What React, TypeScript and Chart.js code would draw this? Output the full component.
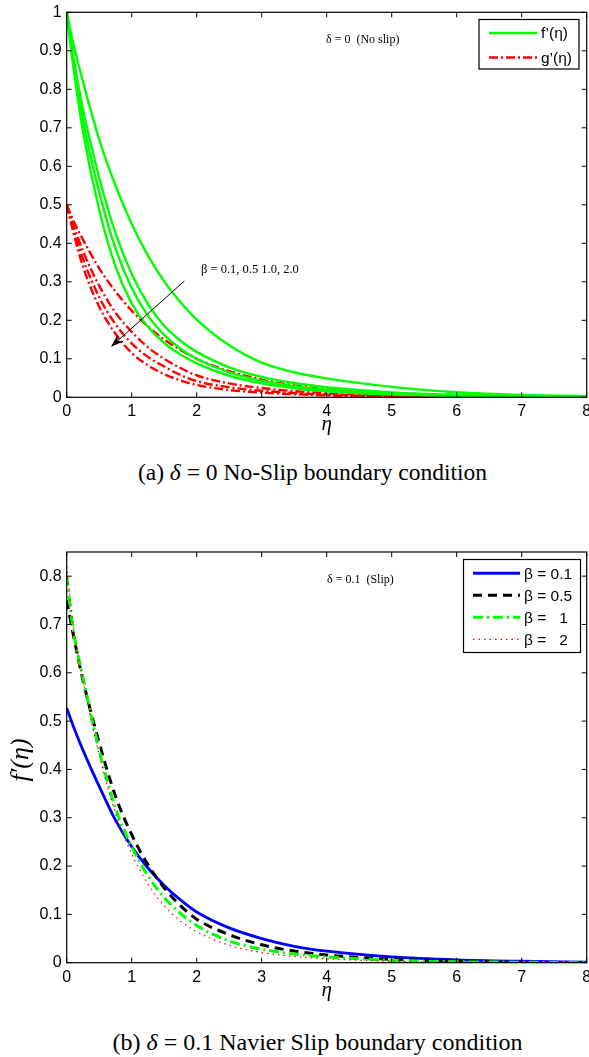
import React, { useEffect, useRef } from "react";
import { Chart, registerables } from "chart.js";

Chart.register(...registerables);

// ---------- data ----------
const ETA = [0, 0.1, 0.25, 0.5, 0.75, 1, 1.25, 1.5, 1.75, 2, 2.5, 3, 3.5, 4, 5, 6, 7, 8];

// (a) delta = 0, f'(eta) for beta = 0.1, 0.5, 1.0, 2.0
const FA_B01 = [1, 0.92, 0.82, 0.67, 0.55, 0.45, 0.368, 0.301, 0.247, 0.202, 0.135, 0.09, 0.065, 0.049, 0.027, 0.013, 0.006, 0.003];
const FA_B05 = [1, 0.887, 0.748, 0.571, 0.427, 0.32, 0.242, 0.186, 0.147, 0.118, 0.078, 0.053, 0.037, 0.026, 0.0125, 0.006, 0.003, 0.0017];
const FA_B1 = [1, 0.869, 0.719, 0.533, 0.387, 0.284, 0.212, 0.162, 0.126, 0.1, 0.065, 0.043, 0.029, 0.019, 0.009, 0.0044, 0.0022, 0.0011];
const FA_B2 = [1, 0.861, 0.691, 0.487, 0.34, 0.244, 0.183, 0.141, 0.111, 0.088, 0.056, 0.036, 0.0235, 0.0155, 0.007, 0.0033, 0.0017, 0.0008];
// (a) g'(eta)
const GA_B01 = [0.5, 0.46, 0.41, 0.335, 0.275, 0.225, 0.184, 0.15, 0.123, 0.1, 0.068, 0.046, 0.031, 0.021, 0.011, 0.006, 0.003, 0.001];
const GA_B05 = [0.5, 0.45, 0.38, 0.29, 0.22, 0.17, 0.13, 0.1, 0.076, 0.057, 0.036, 0.024, 0.016, 0.011, 0.005, 0.003, 0.001, 0];
const GA_B1 = [0.5, 0.44, 0.36, 0.26, 0.19, 0.14, 0.105, 0.08, 0.058, 0.042, 0.026, 0.017, 0.011, 0.007, 0.003, 0.001, 0, 0];
const GA_B2 = [0.5, 0.43, 0.34, 0.235, 0.165, 0.115, 0.083, 0.06, 0.044, 0.032, 0.019, 0.012, 0.008, 0.005, 0.002, 0.001, 0, 0];

// (b) delta = 0.1, f'(eta)
const FB_B01 = [0.527, 0.49, 0.44, 0.365, 0.295, 0.24, 0.196, 0.16, 0.13, 0.105, 0.072, 0.05, 0.034, 0.024, 0.012, 0.006, 0.003, 0.001];
const FB_B05 = [0.75, 0.68, 0.585, 0.455, 0.345, 0.265, 0.203, 0.155, 0.118, 0.09, 0.058, 0.037, 0.024, 0.016, 0.007, 0.003, 0.001, 0];
const FB_B1 = [0.8, 0.69, 0.59, 0.44, 0.32, 0.24, 0.18, 0.135, 0.102, 0.077, 0.045, 0.028, 0.018, 0.012, 0.005, 0.002, 0.001, 0];
const FB_B2 = [0.82, 0.7, 0.585, 0.43, 0.31, 0.225, 0.163, 0.118, 0.086, 0.064, 0.036, 0.021, 0.013, 0.008, 0.003, 0.001, 0, 0];

const X_TICKS = [0, 1, 2, 3, 4, 5, 6, 7, 8];
const Y_TICKS_A = [0, 0.1, 0.2, 0.3, 0.4, 0.5, 0.6, 0.7, 0.8, 0.9, 1];
const Y_TICKS_B = [0, 0.1, 0.2, 0.3, 0.4, 0.5, 0.6, 0.7, 0.8];

const LEGEND_A = ["f\u2019(\u03b7)", "g\u2019(\u03b7)"];
const LEGEND_B = ["\u03b2 = 0.1", "\u03b2 = 0.5", "\u03b2 =   1", "\u03b2 =   2"];
const NOTE_A = "\u03b4 = 0  (No slip)";
const NOTE_B = "\u03b4 = 0.1  (Slip)";
const BETA_NOTE = "\u03b2 = 0.1, 0.5 1.0, 2.0";

// ---------- styles ----------
const SANS = '"Liberation Sans", Arial, sans-serif';
const SERIF = '"Liberation Serif", "Times New Roman", serif';
const GREEN = "#00ff00";
const RED = "#ff0000";
const BLUE = "#0000ff";
const BLACK = "#000000";
const DASHDOT = [9, 3, 2, 3];
const DASHDOT_G = [10, 4, 2, 4];
const DASHED = [9, 6];
const DOTTED = [1.5, 4];

const pts = (ys: number[]) => ETA.map((x, i) => ({ x, y: ys[i] }));

const fmt = (v: number) => (v === 0 ? "0" : String(+Number(v).toFixed(1)));

function drawFrame(chart: any) {
  const { ctx, chartArea: a, scales } = chart;
  ctx.save();
  ctx.strokeStyle = "#000";
  ctx.lineWidth = 1.2;
  ctx.setLineDash([]);
  ctx.strokeRect(a.left, a.top, a.right - a.left, a.bottom - a.top);
  ctx.lineWidth = 1;
  ctx.beginPath();
  for (const t of scales.x.ticks) {
    const px = scales.x.getPixelForValue(t.value);
    ctx.moveTo(px, a.bottom);
    ctx.lineTo(px, a.bottom - 5);
    ctx.moveTo(px, a.top);
    ctx.lineTo(px, a.top + 5);
  }
  for (const t of scales.y.ticks) {
    const py = scales.y.getPixelForValue(t.value);
    ctx.moveTo(a.left, py);
    ctx.lineTo(a.left + 5, py);
    ctx.moveTo(a.right, py);
    ctx.lineTo(a.right - 5, py);
  }
  ctx.stroke();
  ctx.restore();
}

type LegItem = { label: string; color: string; width: number; dash: number[]; y: number };

function drawLegend(
  ctx: CanvasRenderingContext2D,
  box: { x: number; y: number; w: number; h: number },
  items: LegItem[],
  x0: number,
  x1: number,
  tx: number
) {
  ctx.save();
  ctx.fillStyle = "#fff";
  ctx.fillRect(box.x, box.y, box.w, box.h);
  ctx.strokeStyle = "#000";
  ctx.lineWidth = 1.2;
  ctx.setLineDash([]);
  ctx.strokeRect(box.x, box.y, box.w, box.h);
  for (const it of items) {
    ctx.beginPath();
    ctx.strokeStyle = it.color;
    ctx.lineWidth = it.width;
    ctx.setLineDash(it.dash);
    ctx.moveTo(x0, it.y);
    ctx.lineTo(x1, it.y);
    ctx.stroke();
    ctx.setLineDash([]);
    ctx.fillStyle = "#000";
    ctx.font = `15.5px ${SANS}`;
    ctx.textAlign = "left";
    ctx.textBaseline = "middle";
    ctx.fillText(it.label, tx, it.y + 1);
  }
  ctx.restore();
}

function baseOptions(o: {
  padTop: number;
  padRight: number;
  yWidth: number;
  xHeight: number;
  yMax: number;
  yTicks: number[];
}) {
  const tickFont = { family: SANS, size: 16 };
  return {
    animation: false as const,
    responsive: false,
    maintainAspectRatio: false,
    devicePixelRatio: 1,
    layout: { padding: { top: o.padTop, right: o.padRight, left: 0, bottom: 0 } },
    plugins: { legend: { display: false }, tooltip: { enabled: false } },
    elements: { point: { radius: 0 }, line: { tension: 0 } },
    scales: {
      x: {
        type: "linear" as const,
        min: 0,
        max: 8,
        grid: { display: false, drawTicks: false },
        border: { display: false },
        ticks: { font: tickFont, color: "#000", padding: 5, maxRotation: 0, autoSkip: false, callback: (v: any) => fmt(v) },
        afterBuildTicks: (s: any) => {
          s.ticks = X_TICKS.map((v) => ({ value: v }));
        },
        afterFit: (s: any) => {
          s.height = o.xHeight;
          s.paddingLeft = 0;
          s.paddingRight = 0;
        },
      },
      y: {
        type: "linear" as const,
        min: 0,
        max: o.yMax,
        grid: { display: false, drawTicks: false },
        border: { display: false },
        ticks: { font: tickFont, color: "#000", padding: 5, autoSkip: false, callback: (v: any) => fmt(v) },
        afterBuildTicks: (s: any) => {
          s.ticks = o.yTicks.map((v) => ({ value: v }));
        },
        afterFit: (s: any) => {
          s.width = o.yWidth;
          s.paddingTop = 0;
          s.paddingBottom = 0;
        },
      },
    },
  };
}

const mkLine = (ys: number[], color: string, width: number, dash: number[], order: number) => ({
  data: pts(ys),
  borderColor: color,
  borderWidth: width,
  borderDash: dash,
  cubicInterpolationMode: "monotone" as const,
  pointRadius: 0,
  fill: false,
  order,
});

function ChartA() {
  const ref = useRef<HTMLCanvasElement | null>(null);
  useEffect(() => {
    if (!ref.current) return;
    const plugin = {
      id: "decorA",
      afterDatasetsDraw(chart: any) {
        drawFrame(chart);
        const { ctx, chartArea: a, scales } = chart;
        ctx.save();
        ctx.fillStyle = "#000";
        ctx.textBaseline = "middle";
        ctx.textAlign = "left";
        ctx.font = `12px ${SERIF}`;
        ctx.fillText(NOTE_A, 326, 40);
        ctx.font = `12.5px ${SERIF}`;
        ctx.fillText(BETA_NOTE, 201, 270);
        // arrow
        const sx = scales.x.getPixelForValue(1.81);
        const sy = scales.y.getPixelForValue(0.302);
        const ex = scales.x.getPixelForValue(0.68);
        const ey = scales.y.getPixelForValue(0.131);
        const ang = Math.atan2(ey - sy, ex - sx);
        ctx.strokeStyle = "#000";
        ctx.lineWidth = 1;
        ctx.beginPath();
        ctx.moveTo(sx, sy);
        ctx.lineTo(ex - 6 * Math.cos(ang), ey - 6 * Math.sin(ang));
        ctx.stroke();
        const L = 13, W = 4.5;
        const bx = ex - L * Math.cos(ang), by = ey - L * Math.sin(ang);
        const mx = ex - (L - 4) * Math.cos(ang), my = ey - (L - 4) * Math.sin(ang);
        ctx.fillStyle = "#000";
        ctx.beginPath();
        ctx.moveTo(ex, ey);
        ctx.lineTo(bx - W * Math.sin(ang), by + W * Math.cos(ang));
        ctx.lineTo(mx, my);
        ctx.lineTo(bx + W * Math.sin(ang), by - W * Math.cos(ang));
        ctx.closePath();
        ctx.fill();
        // x title
        ctx.font = `italic 21px ${SERIF}`;
        ctx.textAlign = "center";
        ctx.fillText("\u03b7", (a.left + a.right) / 2, a.bottom + 27);
        ctx.restore();
        drawLegend(
          ctx,
          { x: 479, y: 19.5, w: 100, h: 49.5 },
          [
            { label: LEGEND_A[0], color: GREEN, width: 2.5, dash: [], y: 33 },
            { label: LEGEND_A[1], color: RED, width: 2.5, dash: DASHDOT, y: 57.5 },
          ],
          489,
          537,
          541
        );
      },
    };
    const chart = new Chart(ref.current, {
      type: "line",
      data: {
        datasets: [
          mkLine(FA_B01, GREEN, 2.4, [], 1),
          mkLine(FA_B05, GREEN, 2.4, [], 1),
          mkLine(FA_B1, GREEN, 2.4, [], 1),
          mkLine(FA_B2, GREEN, 2.4, [], 1),
          mkLine(GA_B01, RED, 2.4, DASHDOT, 2),
          mkLine(GA_B05, RED, 2.4, DASHDOT, 2),
          mkLine(GA_B1, RED, 2.4, DASHDOT, 2),
          mkLine(GA_B2, RED, 2.4, DASHDOT, 2),
        ],
      },
      options: baseOptions({
        padTop: 12.3,
        padRight: 2.3,
        yWidth: 66.7,
        xHeight: 42.7,
        yMax: 1,
        yTicks: Y_TICKS_A,
      }) as any,
      plugins: [plugin],
    });
    return () => chart.destroy();
  }, []);
  return <canvas ref={ref} width={589} height={440} style={{ position: "absolute", left: 0, top: 0, display: "block" }} />;
}

function ChartB() {
  const ref = useRef<HTMLCanvasElement | null>(null);
  useEffect(() => {
    if (!ref.current) return;
    const plugin = {
      id: "decorB",
      afterDatasetsDraw(chart: any) {
        drawFrame(chart);
        const { ctx, chartArea: a } = chart;
        ctx.save();
        ctx.fillStyle = "#000";
        ctx.textBaseline = "middle";
        ctx.textAlign = "left";
        ctx.font = `12px ${SERIF}`;
        ctx.fillText(NOTE_B, 327, 50);
        ctx.font = `italic 21px ${SERIF}`;
        ctx.textAlign = "center";
        ctx.fillText("\u03b7", (a.left + a.right) / 2, a.bottom + 28);
        // y title
        ctx.translate(21, 230);
        ctx.rotate(-Math.PI / 2);
        ctx.font = `italic 26px ${SERIF}`;
        ctx.fillText("f\u2032(\u03b7)", 0, 0);
        ctx.restore();
        drawLegend(
          ctx,
          { x: 463.5, y: 29.5, w: 117, h: 93 },
          [
            { label: LEGEND_B[0], color: BLUE, width: 3, dash: [], y: 43.3 },
            { label: LEGEND_B[1], color: BLACK, width: 3, dash: DASHED, y: 65.3 },
            { label: LEGEND_B[2], color: GREEN, width: 3, dash: DASHDOT_G, y: 87.3 },
            { label: LEGEND_B[3], color: RED, width: 1.2, dash: DOTTED, y: 109.3 },
          ],
          473,
          520,
          524
        );
      },
    };
    const chart = new Chart(ref.current, {
      type: "line",
      data: {
        datasets: [
          mkLine(FB_B01, BLUE, 2.8, [], 4),
          mkLine(FB_B05, BLACK, 3, DASHED, 3),
          mkLine(FB_B1, GREEN, 3, DASHDOT_G, 2),
          mkLine(FB_B2, RED, 1.2, DOTTED, 1),
        ],
      },
      options: baseOptions({
        padTop: 22,
        padRight: 2.3,
        yWidth: 66.7,
        xHeight: 47.3,
        yMax: 0.85,
        yTicks: Y_TICKS_B,
      }) as any,
      plugins: [plugin],
    });
    return () => chart.destroy();
  }, []);
  return <canvas ref={ref} width={589} height={480} style={{ position: "absolute", left: 0, top: 530, display: "block" }} />;
}

const captionStyle: React.CSSProperties = {
  position: "absolute",
  left: 0,
  width: 589,
  textAlign: "center",
  fontFamily: SERIF,
  fontSize: 23.5,
  lineHeight: "28px",
  color: "#000",
  whiteSpace: "pre",
};

export default function App() {
  return (
    <div style={{ position: "absolute", left: 0, top: 0, width: 589, height: 1057, background: "#fff", overflow: "hidden" }}>
      <ChartA />
      <div style={{ ...captionStyle, top: 458, left: 18 }}>
        (a) <i>{"\u03b4"}</i> = 0 No-Slip boundary condition
      </div>
      <ChartB />
      <div style={{ ...captionStyle, top: 1028, left: 23, fontSize: 24 }}>
        (b) <i>{"\u03b4"}</i> = 0.1 Navier Slip boundary condition
      </div>
    </div>
  );
}
